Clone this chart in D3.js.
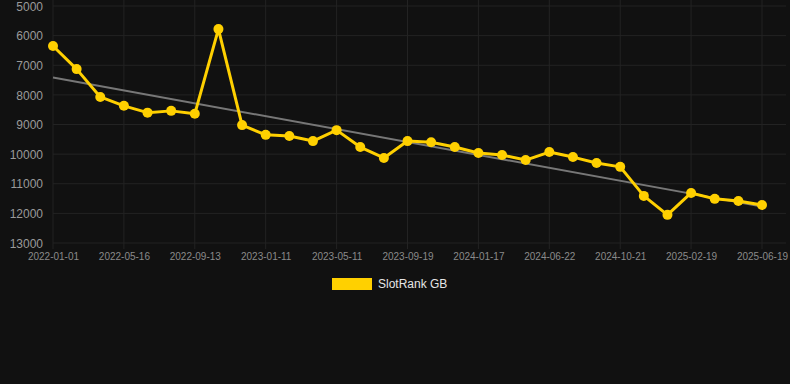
<!DOCTYPE html>
<html>
<head>
<meta charset="utf-8">
<script src="https://cdn.jsdelivr.net/npm/d3@7"></script>
<style>
html,body{margin:0;padding:0;background:#111111;}
svg{display:block;}
text{font-family:"Liberation Sans",Arial,Helvetica,sans-serif;}
</style>
</head>
<body>
<svg id="chart" width="790" height="384"></svg>
<script>
const dates = [
  "2022-01-01","2022-02-15","2022-03-31","2022-05-16","2022-06-25","2022-08-04",
  "2022-09-13","2022-10-23","2022-12-02","2023-01-11","2023-02-20","2023-04-01",
  "2023-05-11","2023-06-20","2023-08-10","2023-09-19","2023-10-29","2023-12-08",
  "2024-01-17","2024-02-26","2024-04-07","2024-06-22","2024-07-31","2024-09-10",
  "2024-10-21","2024-12-01","2025-01-10","2025-02-19","2025-03-31","2025-05-10",
  "2025-06-19"
];
const ranks = [
  6350, 7130, 8070, 8370, 8600, 8540,
  8640, 5780, 9020, 9350, 9390, 9560,
  9190, 9760, 10130, 9560, 9600, 9760,
  9960, 10030, 10200, 9930, 10100, 10300,
  10430, 11410, 12050, 11310, 11510, 11580,
  11720
];
const yTicks = [5000, 6000, 7000, 8000, 9000, 10000, 11000, 12000, 13000];
const seriesName = "SlotRank GB";

(function () {
const svg = d3.select("#chart");
const mLeft = 53, mRight = 762, mTop = 6, mBottom = 243;
const gold = "#ffd000";

const x = d3.scalePoint().domain(dates).range([mLeft, mRight]);
const y = d3.scaleLinear().domain([5000, 13000]).range([mTop, mBottom]);

const labelDates = dates.filter((d, i) => i % 3 === 0);

// grid
const grid = svg.append("g");
grid.selectAll("line.h").data(yTicks).join("line")
  .attr("class", "h")
  .attr("x1", mLeft).attr("x2", 786)
  .attr("y1", d => y(d)).attr("y2", d => y(d))
  .attr("stroke", "#232323").attr("stroke-width", 1);
grid.selectAll("line.v").data(labelDates).join("line")
  .attr("class", "v")
  .attr("x1", d => x(d)).attr("x2", d => x(d))
  .attr("y1", 0).attr("y2", mBottom + 6)
  .attr("stroke", "#232323").attr("stroke-width", 1);

// y axis
const yAxis = d3.axisLeft(y).tickValues(yTicks).tickSize(0).tickPadding(0).tickFormat(d3.format("d"));
const gy = svg.append("g").attr("transform", `translate(${mLeft - 10},0)`).call(yAxis);
gy.select(".domain").remove();
gy.selectAll("text").attr("fill", "#9a9a9a").attr("font-size", 12).attr("dy", "0.35em");

// x axis
const xAxis = d3.axisBottom(x).tickValues(labelDates).tickSize(0).tickPadding(0);
const gx = svg.append("g").attr("transform", `translate(0,${mBottom + 10})`).call(xAxis);
gx.select(".domain").remove();
gx.selectAll("text").attr("fill", "#8a8a8a").attr("font-size", 10).attr("dy", "0.71em");

// trend line (linear regression)
const n = ranks.length;
const idx = d3.range(n);
const mx = d3.mean(idx), my = d3.mean(ranks);
const slope = d3.sum(idx, i => (i - mx) * (ranks[i] - my)) / d3.sum(idx, i => (i - mx) * (i - mx));
const icpt = my - slope * mx;
svg.append("line")
  .attr("x1", x(dates[0])).attr("y1", y(icpt))
  .attr("x2", x(dates[n - 1])).attr("y2", y(icpt + slope * (n - 1)))
  .attr("stroke", "#777777").attr("stroke-width", 2);

// series line
const line = d3.line().x((d, i) => x(dates[i])).y(d => y(d));
svg.append("path").datum(ranks)
  .attr("d", line).attr("fill", "none")
  .attr("stroke", gold).attr("stroke-width", 3).attr("stroke-linejoin", "round");
svg.append("g").selectAll("circle").data(ranks).join("circle")
  .attr("cx", (d, i) => x(dates[i])).attr("cy", d => y(d))
  .attr("r", 5).attr("fill", gold);

// legend
svg.append("rect").attr("x", 332).attr("y", 278).attr("width", 40).attr("height", 12).attr("fill", gold);
svg.append("text").attr("x", 378).attr("y", 284).attr("dy", "0.35em")
  .attr("fill", "#e6e6e6").attr("font-size", 12).text(seriesName);
})();
</script>
</body>
</html>
